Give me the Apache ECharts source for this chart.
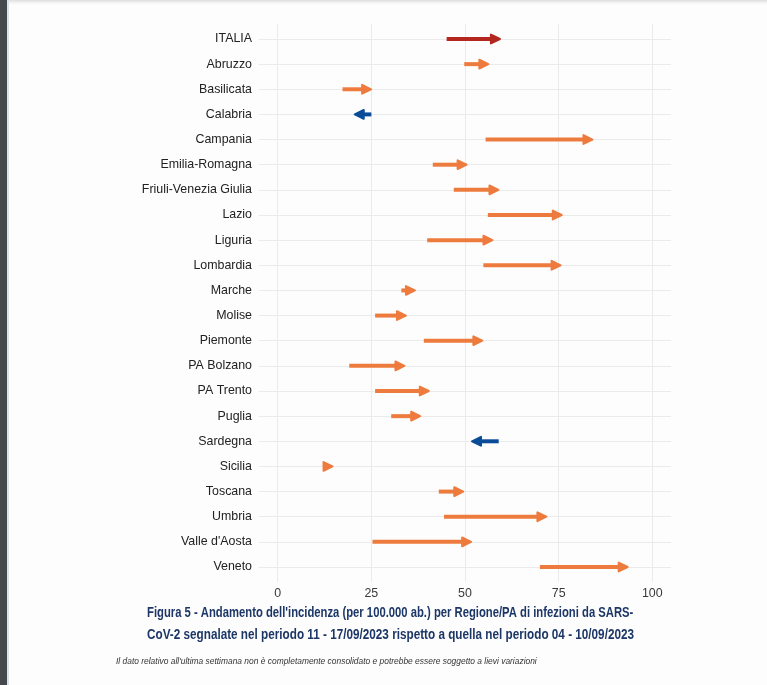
<!DOCTYPE html>
<html>
<head>
<meta charset="utf-8">
<script src="https://cdn.jsdelivr.net/npm/echarts@6/dist/echarts.min.js"></script>
<style>
html,body{margin:0;padding:0;background:#fdfdfd;}
#chart{width:767px;height:685px;}
</style>
</head>
<body>
<div id="chart"></div>
<script>
// Regions / PA (top to bottom)
const categories = ["ITALIA","Abruzzo","Basilicata","Calabria","Campania","Emilia-Romagna","Friuli-Venezia Giulia","Lazio","Liguria","Lombardia","Marche","Molise","Piemonte","PA Bolzano","PA Trento","Puglia","Sardegna","Sicilia","Toscana","Umbria","Valle d'Aosta","Veneto"];
// Incidence per 100.000, week 04 - 10/09/2023 (arrow start)
const previousWeek = [45.1,49.8,17.3,25.0,55.5,41.4,47.0,56.1,39.9,54.9,33.0,26.0,39.0,19.1,26.0,30.3,59.0,12.5,43.0,44.4,25.3,70.0];
// Incidence per 100.000, week 11 - 17/09/2023 (arrow end)
const currentWeek = [59.6,56.5,25.2,20.3,84.3,50.7,59.2,76.1,57.6,75.8,36.9,34.5,54.9,34.1,40.6,38.3,51.6,14.9,49.8,72.0,51.9,93.7];
const xTicks = [0,25,50,75,100];
const captionLines = ["Figura 5 - Andamento dell'incidenza (per 100.000 ab.) per Regione/PA di infezioni da SARS-","CoV-2 segnalate nel periodo 11 - 17/09/2023 rispetto a quella nel periodo 04 - 10/09/2023"];
const noteText = "Il dato relativo all'ultima settimana non è completamente consolidato e potrebbe essere soggetto a lievi variazioni";

const COLOR_NATIONAL = '#b3271f';
const COLOR_UP = '#ee7b3e';
const COLOR_DOWN = '#0b4c98';

const rows = categories.map((c, i) => [i, previousWeek[i], currentWeek[i]]);
const yIdx = categories.map((c, i) => i);

const chart = echarts.init(document.getElementById('chart'), null, {renderer: 'canvas'});

const option = {
  backgroundColor: '#fdfdfd',
  animation: false,
  grid: {left: 259, right: 96, top: 23.9, bottom: 102.9, containLabel: false},
  xAxis: {
    type: 'value', min: -5, max: 105,
    axisLine: {show: false},
    axisTick: {show: false, customValues: xTicks},
    axisLabel: {customValues: xTicks, color: '#3a3a3a', fontSize: 12.4, fontFamily: 'Liberation Sans, Arial, sans-serif', margin: 5},
    splitLine: {show: true, lineStyle: {color: '#ebebeb', width: 1}}
  },
  yAxis: {
    type: 'value', inverse: true, min: -0.6, max: 21.6,
    axisLine: {show: false},
    axisTick: {show: false, customValues: yIdx},
    axisLabel: {customValues: yIdx, color: '#222222', fontSize: 12.4, fontFamily: 'Liberation Sans, Arial, sans-serif', margin: 7,
      formatter: v => categories[Math.round(v)]},
    splitLine: {show: true, lineStyle: {color: '#ebebeb', width: 1}}
  },
  series: [{
    type: 'custom',
    data: rows,
    encode: {x: [1, 2], y: 0},
    renderItem: function (params, api) {
      const i = api.value(0);
      const s = api.value(1), e = api.value(2);
      const p1 = api.coord([s, i]);
      const p2 = api.coord([e, i]);
      const dir = p2[0] >= p1[0] ? 1 : -1;
      const color = i === 0 ? COLOR_NATIONAL : (e < s ? COLOR_DOWN : COLOR_UP);
      const headLen = 9, half = 4.4;
      const tipX = p2[0] - dir * 1;
      const baseX = tipX - dir * headLen;
      const y = p2[1];
      const children = [];
      if ((baseX - p1[0]) * dir > 0) {
        children.push({type: 'line', shape: {x1: p1[0], y1: y, x2: baseX + dir * 1, y2: y},
          style: {stroke: color, lineWidth: 4, lineCap: 'butt'}});
      }
      children.push({type: 'polygon', shape: {points: [[tipX, y], [baseX, y - half], [baseX, y + half]]},
        style: {fill: color, stroke: color, lineWidth: 2, lineJoin: 'round'}});
      return {type: 'group', children: children};
    }
  }],
  graphic: [
    {type: 'rect', left: 0, top: 0, shape: {width: 7, height: 685}, style: {fill: '#45494d'}, silent: true},
    {type: 'rect', left: 7, top: 0, shape: {width: 2, height: 685}, style: {fill: '#dde2e8'}, silent: true},
    {type: 'rect', left: 9, top: 0, shape: {width: 758, height: 6},
      style: {fill: new echarts.graphic.LinearGradient(0, 0, 0, 1, [{offset: 0, color: '#dcdcdc'}, {offset: 1, color: 'rgba(253,253,253,0)'}])}, silent: true},
    {type: 'text', x: 147, y: 605, scaleX: 0.751, style: {text: captionLines[0], fill: '#1c3767', font: 'bold 15px "Liberation Sans", Arial, sans-serif'}},
    {type: 'text', x: 147, y: 627, scaleX: 0.782, style: {text: captionLines[1], fill: '#1c3767', font: 'bold 15px "Liberation Sans", Arial, sans-serif'}},
    {type: 'text', x: 116, y: 657, scaleX: 0.935, style: {text: noteText, fill: '#333333', font: 'italic 9px "Liberation Sans", Arial, sans-serif'}}
  ]
};
chart.setOption(option);
</script>
</body>
</html>
